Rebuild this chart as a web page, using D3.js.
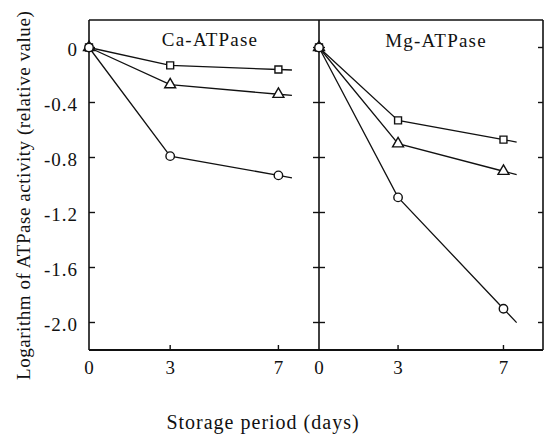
<!DOCTYPE html>
<html>
<head>
<meta charset="utf-8">
<script src="https://cdn.jsdelivr.net/npm/d3@7"></script>
<style>
  body { margin: 0; background: #fff; }
  text { font-family: "Liberation Serif", "DejaVu Serif", serif; fill: #111; }
</style>
</head>
<body>
<script>
// values
var days = [0, 3, 7];
var caSquare = [0, -0.13, -0.16];
var caTriangle = [0, -0.27, -0.34];
var caCircle = [0, -0.79, -0.93];
var mgSquare = [0, -0.53, -0.67];
var mgTriangle = [0, -0.70, -0.90];
var mgCircle = [0, -1.09, -1.90];
var yTicks = [0, -0.4, -0.8, -1.2, -1.6, -2.0];
var xTicks = [0, 3, 7];

var W = 546, H = 436;
var svg = d3.select("body").append("svg").attr("width", W).attr("height", H);

var y = d3.scaleLinear().domain([-2.2, 0.2]).range([350, 20]);
var xL = d3.scaleLinear().domain([0, 8.5]).range([89, 319]);
var xR = d3.scaleLinear().domain([0, 8.5]).range([319, 543]);

var fmt = function(d) { return d === 0 ? "0" : d.toFixed(1); };

// frame
var ink = "#111";
svg.append("line").attr("x1", xL(0)).attr("x2", xR(8.5)).attr("y1", y(0.2)).attr("y2", y(0.2))
  .attr("stroke", ink).attr("stroke-width", 1.6);
svg.append("line").attr("x1", xL(0)).attr("x2", xR(8.5)).attr("y1", y(-2.2)).attr("y2", y(-2.2))
  .attr("stroke", ink).attr("stroke-width", 1.8);
[xL(0), xR(0), xR(8.5)].forEach(function(xx) {
  svg.append("line").attr("x1", xx).attr("x2", xx).attr("y1", y(0.2)).attr("y2", y(-2.2))
    .attr("stroke", ink).attr("stroke-width", 1.6);
});

// y ticks + labels
yTicks.forEach(function(t) {
  svg.append("line").attr("x1", xL(0)).attr("x2", xL(0) + 6).attr("y1", y(t)).attr("y2", y(t))
    .attr("stroke", ink).attr("stroke-width", 1.4);
  svg.append("line").attr("x1", xR(0) - 6).attr("x2", xR(0) + 6).attr("y1", y(t)).attr("y2", y(t))
    .attr("stroke", ink).attr("stroke-width", 1.4);
  svg.append("line").attr("x1", xR(8.5) - 5).attr("x2", xR(8.5)).attr("y1", y(t)).attr("y2", y(t))
    .attr("stroke", ink).attr("stroke-width", 1.4);
  svg.append("text").attr("x", 78).attr("y", y(t) + 8).attr("text-anchor", "end")
    .attr("font-size", 19).attr("letter-spacing", 1).text(fmt(t));
});

// x ticks + labels
[xL, xR].forEach(function(x) {
  xTicks.forEach(function(t) {
    if (t > 0) {
      svg.append("line").attr("x1", x(t)).attr("x2", x(t)).attr("y1", y(-2.2)).attr("y2", y(-2.2) - 5)
        .attr("stroke", ink).attr("stroke-width", 1.4);
    }
    svg.append("text").attr("x", x(t)).attr("y", 374).attr("text-anchor", "middle")
      .attr("font-size", 19).text(t);
  });
});

// panel titles
svg.append("text").attr("x", 210).attr("y", 46).attr("text-anchor", "middle")
  .attr("font-size", 19).attr("letter-spacing", 1.2).text("Ca-ATPase");
svg.append("text").attr("x", 436).attr("y", 47).attr("text-anchor", "middle")
  .attr("font-size", 19).attr("letter-spacing", 1.2).text("Mg-ATPase");

// axis titles
svg.append("text").attr("transform", "translate(30,380) rotate(-90)")
  .attr("font-size", 19).attr("letter-spacing", 0.55)
  .text("Logarithm of ATPase activity (relative value)");
svg.append("text").attr("x", 263).attr("y", 429).attr("text-anchor", "middle")
  .attr("font-size", 20).attr("letter-spacing", 1).text("Storage period (days)");

// series
var series = [
  { x: xL, v: caSquare, m: "square" },
  { x: xL, v: caTriangle, m: "triangle" },
  { x: xL, v: caCircle, m: "circle" },
  { x: xR, v: mgSquare, m: "square" },
  { x: xR, v: mgTriangle, m: "triangle" },
  { x: xR, v: mgCircle, m: "circle" }
];

var line = d3.line();
series.forEach(function(s) {
  var pts = days.map(function(d, i) { return [s.x(d), y(s.v[i])]; });
  // short tail past the last point, same slope as last segment
  var n = days.length;
  var slope = (s.v[n - 1] - s.v[n - 2]) / (days[n - 1] - days[n - 2]);
  pts.push([s.x(7.5), y(s.v[n - 1] + slope * 0.5)]);
  svg.append("path").attr("d", line(pts)).attr("fill", "none")
    .attr("stroke", ink).attr("stroke-width", 1.3);
});

var sym = { square: d3.symbolSquare, triangle: d3.symbolTriangle, circle: d3.symbolCircle };
var size = { square: 48, triangle: 52, circle: 56 };
series.forEach(function(s) {
  svg.selectAll(null).data(days).enter().append("path")
    .attr("transform", function(d, i) { return "translate(" + s.x(d) + "," + y(s.v[i]) + ")"; })
    .attr("d", d3.symbol().type(sym[s.m]).size(size[s.m]))
    .attr("fill", "#fff").attr("stroke", ink).attr("stroke-width", 1.4);
});
</script>
</body>
</html>
